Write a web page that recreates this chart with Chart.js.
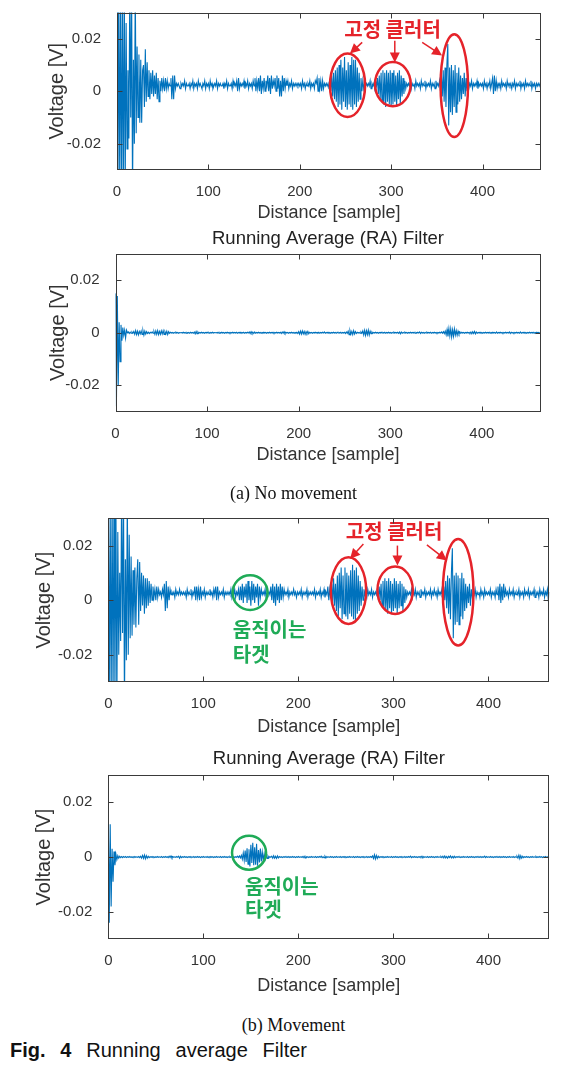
<!DOCTYPE html>
<html>
<head>
<meta charset="utf-8">
<script src="https://cdn.jsdelivr.net/npm/chart.js@4.4.1/dist/chart.umd.min.js"></script>
<style>
  body { margin: 0; background: #fff; width: 569px; height: 1066px; position: relative; overflow: hidden; }
  canvas { position: absolute; left: 0; }
  .cap { position: absolute; left: 0; width: 587px; text-align: center; font-family: "Liberation Serif", "Times New Roman", serif; font-size: 18px; line-height: 20px; color: #111; }
  .fig { position: absolute; left: 10px; width: 297px; top: 1039px; font-family: "Liberation Sans", Arial, sans-serif; font-size: 20px; line-height: 22px; color: #111; text-align: justify; text-align-last: justify; white-space: nowrap; }
</style>
</head>
<body>
<canvas id="rawStatic" width="569" height="224" style="top:0px"></canvas>
<canvas id="raStatic" width="569" height="244" style="top:222px"></canvas>
<div class="cap" style="top:483px">(a) No movement</div>
<canvas id="rawMoving" width="569" height="275" style="top:463px"></canvas>
<canvas id="raMoving" width="569" height="262" style="top:735px"></canvas>
<div class="cap" style="top:1015px">(b) Movement</div>
<div class="fig"><b>Fig. 4</b> Running average Filter</div>

<script>

// tick positions
const xTicks = [0, 100, 200, 300, 400];
const yTicks = [-0.02, 0, 0.02];

// voltages in mV, one value per sample (0..464)
const rawStatic = [
  36,-40,40,-38,38,-40,35,-38,40,-36,26,-22,8,-18,40,-10,38,-40,12,-20,
  40,-16,17,-10,14,-12,12,-12,8,10,-6,16,-4,11,-2,8,-3,7,-1,8,
  -2,6,-1,7,-3,5,-4,4,0,5,1,4,0,5,1,4,1,3,2,5,
  -3,6,-3,6,1,3,2,3,2,1,3,2,3,2,4,1,3,2,2,3,
  1,3,2,4,1,3,2,3,1,4,2,3,2,1,3,2,4,1,3,2,
  3,1,4,2,3,1,2,3,2,4,1,3,2,3,2,2,3,1,3,2,
  4,1,3,2,2,3,1,4,2,3,2,4,0,5,1,3,2,3,2,4,
  1,3,2,4,1,3,2,3,1,4,2,5,0,4,1,5,0,6,-1,4,
  1,5,0,4,2,6,0,5,-1,6,1,4,2,5,0,6,1,5,-2,4,
  -2,6,0,5,1,4,2,4,1,3,2,4,1,3,2,3,2,3,2,3,
  2,3,1,4,2,3,1,3,2,3,2,4,1,3,2,3,1,4,3,5,
  0,5,1,4,0,4,1,3,2,3,2,3,1,4,0,6,-2,7,-3,8,
  -4,9,-6,10,-5,12,-7,9,-4,13,-6,8,-7,11,-5,10,-6,13,-7,12,
  -5,12,-6,9,-4,7,-3,5,0,4,1,3,2,3,2,3,2,4,1,3,
  2,3,1,4,2,5,-1,6,-3,7,-4,8,-5,7,-6,8,-4,7,-5,8,
  -6,7,-5,8,-4,6,-6,7,-3,8,-5,6,-2,5,-1,4,1,3,2,3,
  2,4,1,3,2,3,1,4,2,3,2,3,1,4,2,3,2,4,1,3,
  2,3,2,4,1,3,2,3,1,4,2,3,2,4,0,6,-2,8,-4,9,
  -6,10,18,-13,9,-8,10,-9,8,-6,10,-8,7,-5,9,-4,6,-3,5,-1,
  7,-2,5,0,4,1,3,2,4,1,3,2,3,2,4,1,3,2,3,2,
  3,1,4,2,3,1,3,2,4,1,3,5,-1,6,0,4,1,3,2,3,
  1,4,2,3,2,3,1,4,2,3,2,3,1,3,2,4,1,3,2,3,
  2,4,1,3,2,3,1,4,2,3,2,3,2,4,1,3,2,3,1,3,
  2,3,2,3,2
];

const raStatic = [
  15,-28,14,-20,4,-11,3,-3,2,-1,1,-2,1,0,0.3,-0.3,0.2,-0.2,0.3,-0.2,
  0.5,-0.6,0.8,-0.7,0.6,-0.8,0.5,-0.4,0.7,-0.6,0.8,-0.9,0.6,-0.5,0.4,-0.3,0.2,-0.3,0.2,-0.1,
  0.3,-0.2,0.5,-0.6,0.7,-0.6,0.8,-0.7,0.5,-0.6,0.7,-0.5,0.8,-0.6,0.4,-0.5,0.6,-0.7,0.4,-0.2,
  0.2,-0.1,0.1,-0.2,0.1,-0.1,0.2,-0.1,0.1,-0.2,0.1,0,0.1,-0.1,0.2,-0.1,0.1,-0.2,0.1,-0.1,
  0.1,-0.2,0.2,-0.1,0.1,-0.2,0.3,-0.4,0.5,-0.4,0.3,-0.2,0.1,-0.1,0.2,-0.1,0.1,-0.2,0.1,-0.1,
  0.2,-0.1,0.1,-0.2,0.1,-0.1,0.2,-0.1,0.1,0,0.1,-0.1,0.2,-0.2,0.1,-0.1,0.2,-0.1,0.1,-0.2,
  0.1,-0.1,0.2,-0.1,0.1,-0.2,0.1,-0.1,0.2,-0.1,0.1,-0.1,0.2,-0.2,0.1,-0.1,0.2,-0.1,0.1,-0.1,
  0.2,-0.2,0.1,-0.1,0.2,-0.1,0.3,-0.3,0.4,-0.3,0.2,-0.3,0.3,-0.2,0.1,-0.1,0.2,-0.1,0.1,-0.2,
  0.1,-0.1,0.2,-0.1,0.1,-0.2,0.1,-0.1,0.2,-0.1,0.1,-0.1,0.2,-0.2,0.1,-0.1,0.2,-0.1,0.1,-0.1,
  0.2,-0.3,0.3,-0.2,0.4,-0.3,0.2,-0.1,0.1,-0.2,0.1,-0.1,0.2,-0.1,0.1,-0.2,0.1,-0.1,0.2,-0.3,
  0.4,-0.5,0.6,-0.5,0.7,-0.4,0.5,-0.6,0.4,-0.3,0.5,-0.4,0.2,-0.1,0.1,-0.2,0.1,-0.1,0.2,-0.1,
  0.1,-0.1,0.2,-0.2,0.1,-0.1,0.2,-0.1,0.3,-0.2,0.1,-0.1,0.2,-0.1,0.1,-0.2,0.1,-0.1,0.2,-0.1,
  0.1,-0.2,0.2,-0.1,0.1,-0.1,0.2,-0.2,0.1,-0.1,0.2,-0.3,0.3,-0.2,0.6,-0.7,0.8,-0.6,0.5,-0.7,
  0.8,-0.5,0.4,-0.3,0.2,-0.1,0.1,-0.2,0.3,-0.2,0.7,-0.8,0.9,-1,0.8,-0.7,1,-0.9,0.6,-0.4,
  0.3,-0.2,0.1,-0.1,0.2,-0.1,0.1,-0.2,0.1,-0.1,0.2,-0.1,0.1,-0.1,0.2,-0.2,0.1,-0.1,0.2,-0.1,
  0.1,-0.2,0.1,-0.1,0.2,-0.1,0.1,-0.1,0.2,-0.2,0.3,-0.4,0.3,-0.2,0.1,-0.1,0.2,-0.1,0.1,-0.2,
  0.1,-0.1,0.2,-0.1,0.1,-0.1,0.2,-0.2,0.1,-0.1,0.2,-0.1,0.3,-0.3,0.2,-0.1,0.1,-0.2,0.1,-0.1,
  0.2,-0.1,0.1,-0.1,0.2,-0.2,0.1,-0.1,0.2,-0.1,0.1,-0.2,0.1,-0.1,0.2,-0.1,0.3,-0.2,0.4,-0.3,
  0.6,-0.8,1.2,-1.4,1.6,-1.2,1.5,-1.6,1.1,-1.3,1.4,-0.9,0.8,-1,0.6,-0.5,0.3,-0.2,0.2,-0.1,
  0.1,-0.2,0.1,-0.1,0.2,-0.1,0.1,-0.2,0.3,-0.4,0.4,-0.3,0.5,-0.4,0.3,-0.2,0.1,-0.1,0.2,-0.1,
  0.1,-0.2,0.1,-0.1,0.2,-0.1,0.1,-0.1,0.2,-0.2,0.1,-0.1,0.2,-0.1,0.1,-0.2,0.3,-0.2,0.1,-0.1,
  0.2,-0.1,0.1,-0.2,0.1,-0.1,0.2,-0.1,0.1,-0.1,0.3,-0.3,0.2,-0.1,0.1,-0.2,0.1,-0.1,0.2,-0.1,
  0.1,-0.2,0.3,-0.2,0.1,-0.1,0.2,-0.1,0.1,-0.2,0.1,-0.1,0.2,-0.1,0.1,-0.1,0.2,-0.2,0.1,-0.1,
  0.2,-0.1,0.1,-0.1,0
];

const rawMoving = [
  38,-40,36,-40,40,-38,40,-36,38,-40,25,-20,10,-15,40,-12,38,-40,15,-22,
  38,-20,24,-14,16,-13,11,-9,12,-10,8,15,-9,14,-4,10,-2,9,-5,8,
  -3,8,-2,7,-1,6,0,5,1,4,0,5,1,4,2,3,1,4,2,6,
  -4,7,-3,5,0,4,2,3,2,3,1,4,2,3,2,4,2,3,2,3,
  2,3,1,4,2,3,2,4,1,3,2,5,0,5,1,4,0,5,1,3,
  2,4,1,3,2,3,2,4,2,3,1,4,2,5,0,5,1,3,2,3,
  2,4,1,3,2,3,2,3,2,4,1,3,2,4,1,3,2,4,0,5,
  0,6,-1,5,1,6,-1,7,0,5,-2,7,0,6,-1,5,1,6,-2,5,
  1,4,2,3,2,4,1,3,2,3,2,5,0,6,-1,5,-2,6,0,5,
  -1,6,0,5,1,4,2,3,2,4,1,3,2,3,2,4,2,3,1,3,
  2,3,2,4,1,3,2,3,2,4,1,3,2,3,2,3,2,4,1,3,
  2,3,2,4,1,3,2,4,1,3,2,5,0,4,1,6,-1,8,-2,6,
  -4,9,-6,10,-3,12,-7,9,-5,12,-6,10,-7,9,-5,11,-6,13,-7,11,
  -8,12,-5,9,-4,7,-2,5,0,4,2,3,1,4,2,3,2,4,1,3,
  2,3,2,4,1,5,0,6,-2,7,-3,8,-4,7,-5,8,-3,7,-5,6,
  -4,8,-3,7,-5,6,-3,7,-2,6,-4,5,-1,4,1,3,2,3,2,4,
  1,3,2,4,1,3,2,3,1,4,2,3,2,4,1,3,2,3,2,4,
  1,3,2,4,2,3,1,4,2,3,2,4,1,5,0,7,-3,9,-5,8,
  -7,10,19,-14,9,-9,10,-8,9,-9,8,-6,10,-7,8,-4,6,-3,5,-1,
  6,-2,4,1,3,2,4,1,3,2,3,1,4,2,3,1,4,2,3,2,
  3,2,4,1,3,2,3,1,4,2,5,0,6,-1,5,0,6,1,4,2,
  3,1,4,2,3,2,4,1,3,2,3,2,4,1,3,2,3,1,4,2,
  3,2,4,1,3,2,3,2,4,1,3,2,3,1,4,2,3,2,4,1,
  3,2,4,0,3
];

const raMoving = [
  13,-24,12,-18,3,-9,2,-3,1,-1,0.5,-0.4,0.3,-0.2,0.2,-0.2,0.2,-0.1,0.2,-0.2,
  0.1,-0.1,0.2,-0.1,0.1,-0.2,0.1,-0.1,0.2,-0.1,0.1,-0.1,0.2,-0.2,0.3,-0.4,0.6,-0.5,0.7,-0.6,
  0.5,-0.4,0.3,-0.2,0.1,-0.1,0.2,-0.1,0.1,-0.2,0.1,-0.1,0.2,-0.1,0.1,-0.1,0.2,-0.2,0.1,-0.1,
  0.2,-0.1,0.1,-0.2,0.3,-0.2,0.4,-0.3,0.2,-0.1,0.1,-0.1,0.2,-0.1,0.3,-0.4,0.3,-0.2,0.1,-0.1,
  0.2,-0.1,0.1,-0.2,0.1,-0.1,0.2,-0.1,0.1,-0.1,0.2,-0.2,0.1,-0.1,0.2,-0.1,0.1,-0.2,0.1,-0.1,
  0.2,-0.1,0.1,-0.1,0.2,-0.2,0.1,-0.1,0.2,-0.1,0.1,-0.2,0.1,-0.1,0.2,-0.1,0.1,-0.1,0.2,-0.2,
  0.1,-0.1,0.2,-0.1,0.1,-0.2,0.1,-0.1,0.2,-0.1,0.1,-0.1,0.2,-0.2,0.1,-0.1,0.3,-0.2,0.4,-0.3,
  0.6,-0.8,1.5,-1.2,2.4,-1.8,3.2,-2.6,2.8,-3.4,4.5,-2.2,5.2,-3,3.6,-2.8,4.8,-3.2,2.6,-2,
  3.1,-1.6,1.8,-1.2,1.2,-0.8,0.7,-0.5,0.4,-0.3,0.2,-0.1,0.3,-0.4,0.5,-0.4,0.3,-0.5,0.4,-0.3,
  0.2,-0.1,0.1,-0.2,0.1,-0.1,0.2,-0.1,0.1,-0.1,0.2,-0.2,0.1,-0.1,0.2,-0.1,0.1,-0.2,0.1,-0.1,
  0.2,-0.1,0.1,-0.1,0.2,-0.2,0.3,-0.3,0.2,-0.1,0.1,-0.2,0.1,-0.1,0.2,-0.1,0.1,-0.1,0.2,-0.2,
  0.1,-0.1,0.2,-0.1,0.3,-0.2,0.1,-0.2,0.3,-0.3,0.2,-0.1,0.1,-0.1,0.2,-0.1,0.1,-0.2,0.1,-0.1,
  0.2,-0.1,0.1,-0.1,0.2,-0.2,0.1,-0.1,0.2,-0.1,0.1,-0.2,0.1,-0.1,0.2,-0.1,0.1,-0.1,0.2,-0.2,
  0.1,-0.1,0.2,-0.1,0.1,-0.2,0.1,-0.1,0.2,-0.1,0.1,-0.1,0.2,-0.2,0.1,-0.1,0.2,-0.1,0.4,-0.5,
  0.8,-0.7,0.6,-0.5,0.3,-0.2,0.1,-0.1,0.2,-0.1,0.1,-0.2,0.1,-0.1,0.2,-0.1,0.1,-0.1,0.2,-0.2,
  0.1,-0.1,0.2,-0.1,0.1,-0.2,0.1,-0.1,0.2,-0.1,0.1,-0.1,0.2,-0.2,0.1,-0.1,0.2,-0.1,0.3,-0.2,
  0.1,-0.1,0.2,-0.1,0.1,-0.2,0.1,-0.1,0.2,-0.1,0.3,-0.3,0.2,-0.1,0.1,-0.1,0.2,-0.2,0.1,-0.1,
  0.2,-0.1,0.1,-0.2,0.1,-0.1,0.2,-0.1,0.1,-0.1,0.2,-0.2,0.3,-0.3,0.4,-0.3,0.2,-0.4,0.3,-0.2,
  0.4,-0.3,0.2,-0.3,0.3,-0.2,0.1,-0.1,0.2,-0.1,0.1,-0.2,0.1,-0.1,0.2,-0.1,0.1,-0.1,0.2,-0.2,
  0.1,-0.1,0.2,-0.1,0.1,-0.2,0.1,-0.1,0.2,-0.1,0.1,-0.1,0.2,-0.2,0.1,-0.1,0.3,-0.2,0.2,-0.1,
  0.1,-0.1,0.2,-0.1,0.1,-0.2,0.1,-0.1,0.2,-0.1,0.1,-0.1,0.2,-0.2,0.1,-0.1,0.2,-0.1,0.1,-0.2,
  0.1,-0.1,0.2,-0.1,0.1,-0.1,0.2,-0.2,0.1,-0.1,0.3,-0.4,0.7,-0.6,0.5,-0.4,0.3,-0.2,0.1,-0.1,
  0.2,-0.1,0.1,-0.2,0.1,-0.1,0.2,-0.1,0.1,-0.1,0.2,-0.2,0.1,-0.1,0.2,-0.1,0.1,-0.2,0.1,-0.1,
  0.2,-0.1,0.1,-0.1,0
];

const LINE = "#0072BD";
const AXIS = "#3a3a3a";
const RED = "#e5232a";
const GREEN = "#1fab57";
const SANS = "'Liberation Sans', Arial, sans-serif";
const KOREAN = "'Noto Sans CJK KR', sans-serif";

function toPoints(mv){
  return mv.map((v, i) => ({x: i, y: v / 1000}));
}

// box with inward ticks on all four sides, like matlab
const frame = {
  id: "frame",
  afterDraw(chart){
    const {ctx, chartArea: a, scales: {x, y}} = chart;
    ctx.save();
    ctx.strokeStyle = AXIS;
    ctx.lineWidth = 1;
    const l = Math.round(a.left) + 0.5, r = Math.round(a.right) - 0.5;
    const t = Math.round(a.top) + 0.5, b = Math.round(a.bottom) - 0.5;
    ctx.strokeRect(l, t, r - l, b - t);
    ctx.beginPath();
    for (const tk of x.ticks){
      const p = Math.round(x.getPixelForValue(tk.value)) + 0.5;
      ctx.moveTo(p, b); ctx.lineTo(p, b - 5);
      ctx.moveTo(p, t); ctx.lineTo(p, t + 5);
    }
    for (const tk of y.ticks){
      const p = Math.round(y.getPixelForValue(tk.value)) + 0.5;
      ctx.moveTo(l, p); ctx.lineTo(l + 5, p);
      ctx.moveTo(r, p); ctx.lineTo(r - 5, p);
    }
    ctx.stroke();
    ctx.restore();
  }
};

// circles, arrows and korean notes placed in data units
const notes = {
  id: "notes",
  afterDatasetsDraw(chart, args, opts){
    const {ctx, scales: {x, y}} = chart;
    ctx.save();
    ctx.lineWidth = 2.5;
    for (const r of opts.rings || []){
      const cx = x.getPixelForValue(r.x), cy = y.getPixelForValue(r.y);
      const rx = x.getPixelForValue(r.x + r.rx) - cx;
      const ry = cy - y.getPixelForValue(r.y + r.ry);
      ctx.strokeStyle = r.color;
      ctx.beginPath();
      ctx.ellipse(cx, cy, rx, ry, 0, 0, Math.PI * 2);
      ctx.stroke();
    }
    ctx.lineWidth = 1.5;
    for (const ar of opts.arrows || []){
      const x1 = x.getPixelForValue(ar[0]), y1 = y.getPixelForValue(ar[1]);
      const x2 = x.getPixelForValue(ar[2]), y2 = y.getPixelForValue(ar[3]);
      const ang = Math.atan2(y2 - y1, x2 - x1);
      ctx.strokeStyle = RED;
      ctx.fillStyle = RED;
      ctx.beginPath();
      ctx.moveTo(x1, y1);
      ctx.lineTo(x2 - 7 * Math.cos(ang), y2 - 7 * Math.sin(ang));
      ctx.stroke();
      ctx.beginPath();
      ctx.moveTo(x2, y2);
      ctx.lineTo(x2 - 10 * Math.cos(ang) + 5 * Math.sin(ang), y2 - 10 * Math.sin(ang) - 5 * Math.cos(ang));
      ctx.lineTo(x2 - 10 * Math.cos(ang) - 5 * Math.sin(ang), y2 - 10 * Math.sin(ang) + 5 * Math.cos(ang));
      ctx.closePath();
      ctx.fill();
    }
    ctx.font = "bold 20px " + KOREAN;
    ctx.textBaseline = "middle";
    for (const t of opts.labels || []){
      ctx.fillStyle = t.color;
      ctx.textAlign = t.align;
      ctx.fillText(t.text, x.getPixelForValue(t.x), y.getPixelForValue(t.y));
    }
    ctx.restore();
  }
};

function makeChart(id, mv, lay, title, marks){

  return new Chart(document.getElementById(id), {
    type: "line",
    data: {
      datasets: [{
        data: toPoints(mv),
        borderColor: LINE,
        borderWidth: 1.1,
        pointRadius: 0,
        tension: 0
      }]
    },
    options: {
      responsive: false,
      animation: false,
      devicePixelRatio: 1,
      layout: {padding: {left: lay.padLeft, right: lay.padRight, top: lay.padTop, bottom: 0}},
      plugins: {
        legend: {display: false},
        tooltip: {enabled: false},
        title: {
          display: !!title,
          text: title,
          fullSize: false,
          color: "#222",
          font: {family: SANS, size: 18.5, weight: "normal", lineHeight: 1},
          padding: {top: lay.titleTop || 0, bottom: lay.titleBottom || 0}
        },
        notes: marks
      },
      scales: {
        x: {
          type: "linear",
          min: 0,
          max: 464,
          grid: {display: false},
          border: {display: false},
          afterBuildTicks: s => { s.ticks = xTicks.map(v => ({value: v})); },
          afterFit: s => { s.height = lay.xHeight; s.paddingLeft = 0; s.paddingRight = 0; },
          ticks: {color: "#333", padding: 5, maxRotation: 0, font: {family: SANS, size: 15}, callback: v => String(v)},
          title: {display: true, text: "Distance [sample]", color: "#333", padding: 0, font: {family: SANS, size: 18, lineHeight: 1.2}}
        },
        y: {
          type: "linear",
          min: -0.03,
          max: 0.03,
          grid: {display: false},
          border: {display: false},
          afterBuildTicks: s => { s.ticks = yTicks.map(v => ({value: v})); },
          afterFit: s => { s.width = lay.yWidth; s.paddingTop = 0; s.paddingBottom = 0; },
          ticks: {color: "#333", padding: 8, font: {family: SANS, size: 15}, callback: v => v === 0 ? "0" : v.toFixed(2)},
          title: {display: true, text: "Voltage [V]", color: "#333", padding: 0, font: {family: SANS, size: 20, lineHeight: 1.2}}
        }
      }
    },
    plugins: [frame, notes]
  });

}

const clutterText = "고정 클러터";

makeChart("rawStatic", rawStatic,
  {padLeft: 45.5, yWidth: 71.5, padRight: 28, padTop: 12.5, xHeight: 54},
  "",
  {
    rings: [
      {x: 252.3, y: 0.00226, rx: 19.2, ry: 0.01208, color: RED},
      {x: 301.9, y: 0.0027, rx: 19.5, ry: 0.0084, color: RED},
      {x: 369.1, y: 0.00215, rx: 15, ry: 0.0196, color: RED}
    ],
    arrows: [[268.3, 0.0186, 254.9, 0.01434], [304, 0.01925, 304, 0.01094], [334, 0.0186, 355.8, 0.01358]],
    labels: [{text: clutterText, x: 301.5, y: 0.0234, align: "center", color: RED}]
  });

makeChart("raStatic", raStatic,
  {padLeft: 46.5, yWidth: 69, padRight: 28.5, padTop: 0, titleTop: 8, titleBottom: 5.5, xHeight: 54.5},
  "Running Average (RA) Filter",
  {});

makeChart("rawMoving", rawMoving,
  {padLeft: 32.5, yWidth: 75.8, padRight: 19.7, padTop: 55.3, xHeight: 56},
  "",
  {
    rings: [
      {x: 252.7, y: 0.00351, rx: 18.6, ry: 0.01224, color: RED},
      {x: 301.8, y: 0.00364, rx: 18.6, ry: 0.00873, color: RED},
      {x: 368.1, y: 0.00291, rx: 16.1, ry: 0.01953, color: RED},
      {x: 149.2, y: 0.00273, rx: 18.4, ry: 0.00636, color: GREEN}
    ],
    arrows: [[268.4, 0.0206, 254.4, 0.01516], [304.2, 0.02, 304.2, 0.01273], [335.2, 0.02025, 356.2, 0.01455]],
    labels: [
      {text: clutterText, x: 300.7, y: 0.02516, align: "center", color: RED},
      {text: "움직이는", x: 131, y: -0.0109, align: "left", color: GREEN},
      {text: "타겟", x: 131, y: -0.02, align: "left", color: GREEN}
    ]
  });

makeChart("raMoving", raMoving,
  {padLeft: 32.5, yWidth: 75.8, padRight: 19.7, padTop: 0, titleTop: 14.3, titleBottom: 7, xHeight: 57.7},
  "Running Average (RA) Filter",
  {
    rings: [{x: 148.1, y: 0.00156, rx: 17.9, ry: 0.00618, color: GREEN}],
    labels: [
      {text: "움직이는", x: 143.9, y: -0.0107, align: "left", color: GREEN},
      {text: "타겟", x: 143.9, y: -0.0192, align: "left", color: GREEN}
    ]
  });

</script>
</body>
</html>
